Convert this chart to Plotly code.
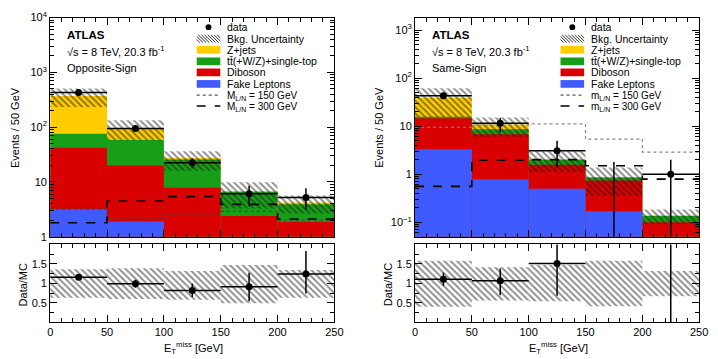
import plotly.graph_objects as go

W, H = 718, 359

# ---------------- data ----------------
edges = [0, 50, 100, 150, 200, 250]
bin_centers = [25, 75, 125, 175, 225]
bin_width = 50

# Opposite-Sign (left)
os_fake = [3.2, 1.9, 0.5, 0.4, 0.3]
os_diboson = [38.8, 18.1, 7.3, 2.0, 1.57]
os_ttbar = [34.0, 38.0, 18.0, 4.2, 2.03]
os_zjets = [296.0, 38.0, 1.7, 0.1, 0.3]
os_unc_lo = [0.63, 0.60, 0.58, 0.49, 0.63]   # relative band
os_unc_hi = [1.36, 1.39, 1.32, 1.47, 1.34]
os_data = [430, 95, 22.5, 6.1, 5.2]
os_data_up = [21, 10, 4.7, 2.4, 2.5]
os_data_dn = [21, 10, 4.7, 2.5, 2.1]
os_sig150 = [3.2, 2.2, 2.6, 2.9, 2.0]
os_sig300 = [1.8, 4.5, 5.4, 3.9, 2.1]

# Same-Sign (right)
ss_fake = [3.3, 0.79, 0.5, 0.17, 0.0]
ss_diboson = [11.4, 6.0, 1.08, 0.57, 0.1]
ss_ttbar = [1.1, 1.8, 0.42, 0.12, 0.035]
ss_zjets = [23.2, 2.2, 0.05, 0.01, 0.005]
ss_unc_lo = [0.40, 0.56, 0.54, 0.41, 0.67]
ss_unc_hi = [1.58, 1.41, 1.47, 1.58, 1.32]
ss_data = [43, 11.5, 3.1, 0, 1]
ss_data_up = [6.5, 3.4, 1.9, 1.8, 1.0]
ss_data_dn = [6.5, 4.0, 1.7, 0.0, 1.0]
ss_sig150 = [9.5, 10.5, 11.2, 5.4, 2.9]
ss_sig300 = [0.56, 1.96, 2.02, 1.5, 0.79]

os_yticks = [1, 10, 100, 1000, 10000]
os_yticktext = ["1", "10", "10<sup>2</sup>", "10<sup>3</sup>", "10<sup>4</sup>"]
ss_yticks = [0.1, 1, 10, 100, 1000]
ss_yticktext = ["10<sup>\u22121</sup>", "1", "10", "10<sup>2</sup>", "10<sup>3</sup>"]
x_ticks = [0, 50, 100, 150, 200, 250]
ratio_ticks = [0.5, 1, 1.5]

C_Z = "#FFCC00"
C_TT = "#17A017"
C_DB = "#D80000"
C_FK = "#3F5BFF"
FONT = "Liberation Sans"

def px(x):
    return x / W

def py(y):
    return 1 - y / H

fig = go.Figure()

def cumsum_lists(*lists):
    out = []
    run = [0.0] * len(lists[0])
    for l in lists:
        run = [a + b for a, b in zip(run, l)]
        out.append(run)
    return out

HATCH = dict(shape="\\", fgcolor="#1a1a1a", bgcolor="rgba(0,0,0,0)", size=4.5,
             solidity=0.42, fillmode="overlay")

def add_panel(xa, ya, xr, yr, fake, dib, tt, zj, ulo, uhi, data, dup, ddn,
              s150, s300, ymin, sig150_color):
    c_fake, c_dib, c_tt, c_tot = cumsum_lists(fake, dib, tt, zj)
    for vals, col in [(c_tot, C_Z), (c_tt, C_TT), (c_dib, C_DB), (c_fake, C_FK)]:
        fig.add_trace(go.Bar(x=bin_centers, y=vals, width=[bin_width] * 5,
                             marker=dict(color=col, line=dict(width=0)),
                             xaxis=xa, yaxis=ya, showlegend=False))
    lo = [t * a for t, a in zip(c_tot, ulo)]
    hi = [t * b for t, b in zip(c_tot, uhi)]
    fig.add_trace(go.Bar(x=bin_centers, y=[h - l for h, l in zip(hi, lo)], base=lo,
                         width=[bin_width] * 5,
                         marker=dict(color="rgba(0,0,0,0)", line=dict(width=0), pattern=HATCH),
                         xaxis=xa, yaxis=ya, showlegend=False))
    # signal step lines
    for vals, dash, col, wid in [(s150, "dot", sig150_color, 1.2), (s300, "dash", "black", 1.6)]:
        fig.add_trace(go.Scatter(x=edges, y=vals + [vals[-1]], mode="lines",
                                 line=dict(shape="hv", dash=dash, color=col, width=wid),
                                 xaxis=xa, yaxis=ya, showlegend=False))
    # data error bars
    ex, ey, hx, hy, mx, my = [], [], [], [], [], []
    for i, d in enumerate(data):
        low = d - ddn[i]
        if low <= ymin:
            low = ymin
        ex += [bin_centers[i], bin_centers[i], None]
        ey += [low, d + dup[i], None]
        if d > 0:
            hx += [edges[i], edges[i + 1], None]
            hy += [d, d, None]
            mx.append(bin_centers[i])
            my.append(d)
    fig.add_trace(go.Scatter(x=ex + hx, y=ey + hy, mode="lines",
                             line=dict(color="black", width=1.5),
                             xaxis=xa, yaxis=ya, showlegend=False))
    fig.add_trace(go.Scatter(x=mx, y=my, mode="markers",
                             marker=dict(color="black", size=7),
                             xaxis=xa, yaxis=ya, showlegend=False))
    # ratio panel
    rlo = list(ulo)
    rhi = list(uhi)
    fig.add_trace(go.Bar(x=bin_centers, y=[h - l for h, l in zip(rhi, rlo)], base=rlo,
                         width=[bin_width] * 5,
                         marker=dict(color="rgba(0,0,0,0)", line=dict(width=0), pattern=HATCH),
                         xaxis=xr, yaxis=yr, showlegend=False))
    rx, ry, rmx, rmy = [], [], [], []
    for i, d in enumerate(data):
        if d <= 0:
            continue
        r = d / c_tot[i]
        rup = dup[i] / c_tot[i]
        rdn = ddn[i] / c_tot[i]
        rx += [bin_centers[i], bin_centers[i], None, edges[i], edges[i + 1], None]
        ry += [max(r - rdn, 0), r + rup, None, r, r, None]
        rmx.append(bin_centers[i])
        rmy.append(r)
    fig.add_trace(go.Scatter(x=rx, y=ry, mode="lines", line=dict(color="black", width=1.5),
                             xaxis=xr, yaxis=yr, showlegend=False, cliponaxis=True))
    fig.add_trace(go.Scatter(x=rmx, y=rmy, mode="markers", marker=dict(color="black", size=7),
                             xaxis=xr, yaxis=yr, showlegend=False))

add_panel("x", "y", "x3", "y3", os_fake, os_diboson, os_ttbar, os_zjets,
          os_unc_lo, os_unc_hi, os_data, os_data_up, os_data_dn,
          os_sig150, os_sig300, 1.0, "#444444")
add_panel("x2", "y2", "x4", "y4", ss_fake, ss_diboson, ss_ttbar, ss_zjets,
          ss_unc_lo, ss_unc_hi, ss_data, ss_data_up, ss_data_dn,
          ss_sig150, ss_sig300, 0.05, "#888888")

# ---------------- axes ----------------
LX = [px(48), px(337)]
RX = [px(419), px(708)]
MY = [py(238), py(10)]
RY = [py(327), py(246)]

tickfont = dict(family=FONT, size=11, color="black")
common = dict(showline=True, linecolor="black", linewidth=1, mirror="allticks",
              ticks="inside", ticklen=7, tickcolor="black", showgrid=False,
              zeroline=False, tickfont=tickfont)
log_minor = [m * 10 ** e for e in range(-2, 5) for m in range(2, 10)]

xcommon = dict(common, range=[0, 250], tickvals=x_ticks,
               minor=dict(ticks="inside", ticklen=4, tickcolor="black", dtick=10, tick0=0))

fig.update_layout(
    xaxis=dict(xcommon, domain=LX, anchor="y", showticklabels=False),
    yaxis=dict(common, domain=MY, anchor="x", type="log", range=[0, 4.0],
               tickvals=os_yticks, ticktext=os_yticktext,
               minor=dict(ticks="inside", ticklen=4, tickcolor="black", tickvals=log_minor)),
    xaxis3=dict(xcommon, domain=LX, anchor="y3", showticklabels=True),
    yaxis3=dict(common, domain=RY, anchor="x3", range=[0, 2], tickvals=ratio_ticks,
                minor=dict(ticks="inside", ticklen=4, tickcolor="black", dtick=0.25, tick0=0)),
    xaxis2=dict(xcommon, domain=RX, anchor="y2", showticklabels=False),
    yaxis2=dict(common, domain=MY, anchor="x2", type="log", range=[-1.3, 3.26],
                tickvals=ss_yticks, ticktext=ss_yticktext,
                minor=dict(ticks="inside", ticklen=4, tickcolor="black", tickvals=log_minor)),
    xaxis4=dict(xcommon, domain=RX, anchor="y4", showticklabels=True),
    yaxis4=dict(common, domain=RY, anchor="x4", range=[0, 2], tickvals=ratio_ticks,
                minor=dict(ticks="inside", ticklen=4, tickcolor="black", dtick=0.25, tick0=0)),
    barmode="overlay",
    width=W, height=H, margin=dict(l=0, r=0, t=0, b=0),
    paper_bgcolor="white", plot_bgcolor="white",
    font=dict(family=FONT, size=11, color="black"),
    showlegend=False,
)

annotations = []
shapes = []

def text(x, y, s, size=10.5, xanchor="left", angle=0, yanchor="middle"):
    annotations.append(dict(x=px(x), y=py(y), xref="paper", yref="paper", text=s,
                            showarrow=False, xanchor=xanchor, yanchor=yanchor,
                            textangle=angle,
                            font=dict(family=FONT, size=size, color="black")))

# axis titles
for xc, xr in [(12, 20), (383, 391)]:
    text(xc, 124, "Events / 50 GeV", size=11, xanchor="center", angle=-90)
    text(xr, 288, "Data/MC", size=11, xanchor="center", angle=-90)
for xc in [194, 565]:
    text(xc, 354, "E<sub>T</sub><sup>miss</sup> [GeV]", size=11, xanchor="center")

# ATLAS labels
for x0, region in [(63, "Opposite-Sign"), (434, "Same-Sign")]:
    text(x0, 28, "<b>ATLAS</b>", size=11.5)
    text(x0, 45, "\u221As = 8 TeV, 20.3 fb<sup>-1</sup>", size=11)
    text(x0, 62, region, size=11)

# legends
def hatch_box(x0, y0, x1, y1, step=3.2):
    w = x1 - x0
    h = y1 - y0
    t = -h
    while t < w:
        sx, sy = t, 0.0
        ex, ey = t + h, h
        if sx < 0:
            sy = -sx
            sx = 0.0
        if ex > w:
            ey = h - (ex - w)
            ex = w
        shapes.append(dict(type="line", xref="paper", yref="paper",
                           x0=px(x0 + sx), y0=py(y0 + sy), x1=px(x0 + ex), y1=py(y0 + ey),
                           line=dict(color="#333333", width=1)))
        t += step

def legend(bx, tx, m):
    rows = [20, 32, 43.5, 55.5, 67, 79, 90.7, 102]
    bx0, bx1 = bx, bx + 24
    shapes.append(dict(type="circle", xref="paper", yref="paper",
                       x0=px(bx + 9), x1=px(bx + 15), y0=py(rows[0] + 3), y1=py(rows[0] - 3),
                       fillcolor="black", line=dict(color="black", width=0)))
    text(tx, rows[0], "data")
    hatch_box(bx0, rows[1] - 4, bx1, rows[1] + 4)
    text(tx, rows[1], "Bkg. Uncertainty")
    for r, col, lab in [(rows[2], C_Z, "Z+jets"),
                        (rows[3], C_TT, "tt\u0304(+W/Z)+single-top"),
                        (rows[4], C_DB, "Diboson"),
                        (rows[5], C_FK, "Fake Leptons")]:
        shapes.append(dict(type="rect", xref="paper", yref="paper",
                           x0=px(bx0), x1=px(bx1), y0=py(r + 4), y1=py(r - 4),
                           fillcolor=col, line=dict(width=0)))
        text(tx, r, lab)
    shapes.append(dict(type="line", xref="paper", yref="paper", x0=px(bx0), x1=px(bx1),
                       y0=py(rows[6]), y1=py(rows[6]),
                       line=dict(color="#555555", width=1.2, dash="dot")))
    text(tx, rows[6] + 0.5, m + "<sub>L/N</sub> = 150 GeV", size=10)
    shapes.append(dict(type="line", xref="paper", yref="paper", x0=px(bx0), x1=px(bx1),
                       y0=py(rows[7]), y1=py(rows[7]),
                       line=dict(color="black", width=1.6, dash="dash")))
    text(tx, rows[7] + 1.5, m + "<sub>L/N</sub> = 300 GeV", size=10)

legend(197, 226, "M")
legend(567, 596, "m")

fig.update_layout(annotations=annotations, shapes=shapes)
fig.write_html("out.html")
